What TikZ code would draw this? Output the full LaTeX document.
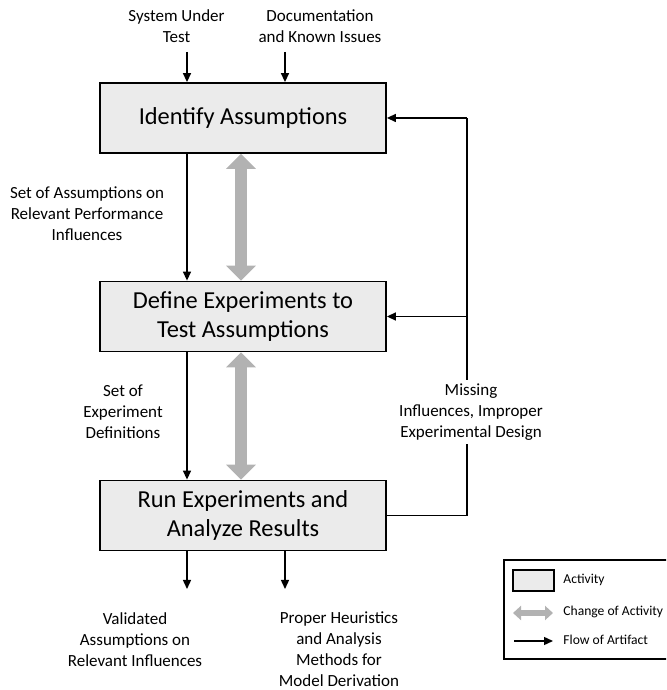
\documentclass[tikz,border=0pt]{standalone}
\usepackage{fontspec}
\setmainfont{Carlito}
\usepackage{tikz}
\usetikzlibrary{arrows.meta,calc,positioning}
\usepackage{xcolor}

\tikzset{
  activity/.style={draw,line width=0.9pt,fill=black!8,minimum width=143pt,minimum height=35pt,
    align=center,font=\fontsize{12.2}{14.5}\selectfont,inner sep=0pt},
  artifact/.style={align=center,font=\fontsize{8.5}{10.5}\selectfont,inner sep=1pt},
  flow/.style={-{Triangle[length=4.5pt,width=4pt]},line width=0.7pt},
  change/.style={{Triangle[length=7.5pt,width=14.5pt]}-{Triangle[length=7.5pt,width=14.5pt]},
    line width=6pt,draw=black!30},
  legtext/.style={anchor=west,font=\fontsize{6.8}{8}\selectfont,inner sep=0pt}
}

\begin{document}
\begin{tikzpicture}[x=0.5pt,y=0.5pt]
\useasboundingbox (0,0) rectangle (666,690);
\clip (0,0) rectangle (666,690);
% columns
\coordinate (colL) at (187,0);
\coordinate (colR) at (285,0);
\coordinate (fbx) at (467,0);

% activities
\node[activity] (ident) at (243,572) {Identify Assumptions};
\node[activity] (define) at (243,373.5) {Define Experiments to\\Test Assumptions};
\node[activity] (run) at (243,174.5) {Run Experiments and\\Analyze Results};

% inputs
\node[artifact] (sut) at (176.5,664) {System Under\\Test};
\node[artifact] (doc) at (320,664) {Documentation\\and Known Issues};
\coordinate (inL) at (187,638);
\coordinate (inR) at (285,638);
\draw[flow] (inL) -- (ident.north -| inL);
\draw[flow] (inR) -- (ident.north -| inR);

% artifacts between activities
\draw[flow] (ident.south -| colL) -- (define.north -| colL);
\draw[flow] (define.south -| colL) -- (run.north -| colL);
\node[artifact] (assum) at (87,476) {Set of Assumptions on\\Relevant Performance\\Influences};
\node[artifact] (expdef) at (123,278) {Set of\\Experiment\\Definitions};

% change of activity
\draw[change] ([xshift=-1pt]ident.south) -- ([xshift=-1pt]define.north);
\draw[change] ([xshift=-1pt]define.south) -- ([xshift=-1pt]run.north);

% feedback
\draw[line width=0.7pt] (run.east) -- (run.east -| fbx) -- (fbx |- ident.east);
\draw[flow] (fbx |- ident.east) -- (ident.east);
\draw[flow] (fbx |- define.east) -- (define.east);
\node[artifact,fill=white,inner sep=2pt] (missing) at (471,278) {Missing\\Influences, Improper\\Experimental Design};

% outputs
\coordinate (outL) at (187,101);
\coordinate (outR) at (285,101);
\draw[flow] (run.south -| outL) -- (outL);
\draw[flow] (run.south -| outR) -- (outR);
\node[artifact] (valid) at (135,50) {Validated\\Assumptions on\\Relevant Influences};
\node[artifact] (heur) at (339,41) {Proper Heuristics\\and Analysis\\Methods for\\Model Derivation};

% legend
\draw[line width=0.7pt] (504,31) rectangle (690,130);
\node[draw,line width=0.8pt,fill=black!8,minimum width=20.5pt,minimum height=10.5pt,inner sep=0pt] (legact) at (533.5,109.5) {};
\draw[{Triangle[length=4pt,width=7pt]}-{Triangle[length=4pt,width=7pt]},line width=3pt,draw=black!30] (513,77) -- (553,77);
\coordinate (legfa) at (514,49);
\draw[flow] (legfa) -- (553,49);
\node[legtext] (lact) at (563,110) {Activity};
\node[legtext] (lchg) at (563,78) {Change of Activity};
\node[legtext] (lflow) at (563,50) {Flow of Artifact};
\end{tikzpicture}
\end{document}
